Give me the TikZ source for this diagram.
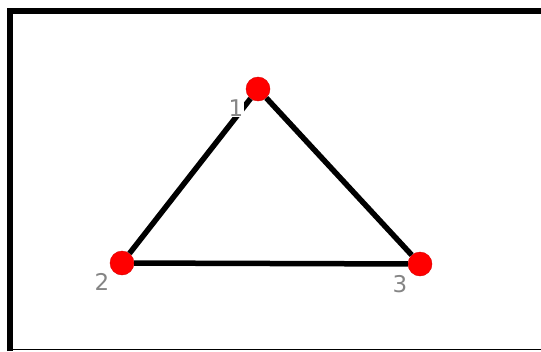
\documentclass[tikz,border=0pt]{standalone}
\usepackage{fontspec}
\setmainfont{DejaVu Sans}
\definecolor{labelgray}{HTML}{858585}
\definecolor{vertexred}{HTML}{FF0000}
\tikzset{
  vertex/.style={circle, fill=vertexred, draw=vertexred!85!black, line width=0.4pt, minimum size=24pt, inner sep=0pt},
  edge/.style={line width=5.5pt},
  numlabel/.style={text=labelgray, fill=white, inner sep=1pt, font=\fontsize{23}{23}\selectfont}
}
\begin{document}
\begin{tikzpicture}[x=1pt, y=-1pt]
  \useasboundingbox (0,0) rectangle (541,351);
  \fill[white] (0,0) rectangle (541,351);

  % frame
  \draw[line width=6pt] (9.5,351) -- (9.5,11) -- (541,11);
  \draw[line width=1.5pt] (12,349.5) -- (541,349.5);

  % vertices
  \node[vertex] (v1) at (258,89) {};
  \node[vertex] (v2) at (122,263) {};
  \node[vertex] (v3) at (420,264) {};

  % edges
  \draw[edge] (v1) -- (v2);
  \draw[edge] (v1) -- (v3);
  \draw[edge] (v2) -- (v3);

  % labels
  \node[numlabel] (l1) at ([shift={(-22,19)}]v1) {1};
  \node[numlabel] (l2) at ([shift={(-20,19)}]v2) {2};
  \node[numlabel] (l3) at ([shift={(-20,20)}]v3) {3};
\end{tikzpicture}
\end{document}
